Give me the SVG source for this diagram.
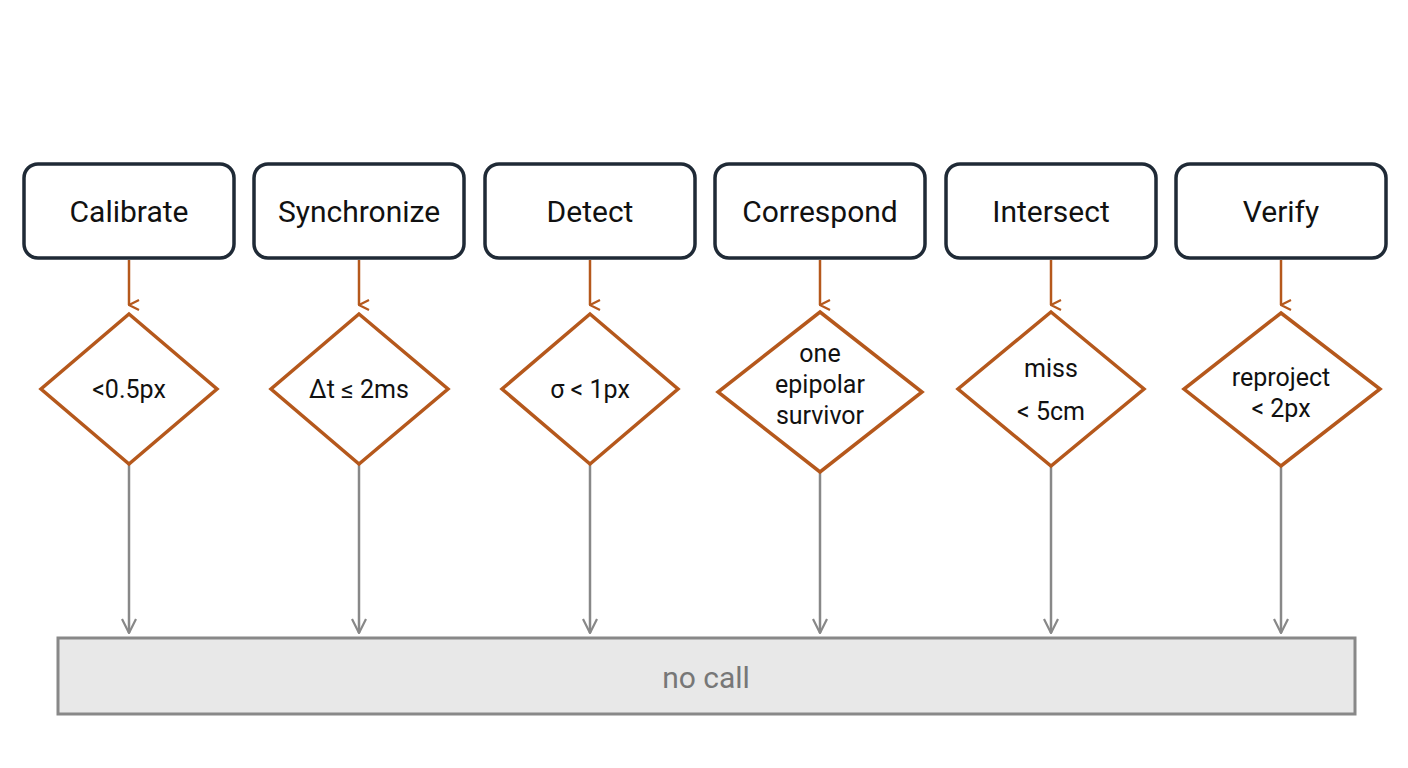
<svg xmlns="http://www.w3.org/2000/svg" width="1408" height="768" viewBox="0 0 1408 768">
<style>
.box{fill:#fff;stroke:#1f2a36;stroke-width:3.5}
.dia{fill:#fff;stroke:#b5581c;stroke-width:3.5}
.t{font-family:Roboto,"Liberation Sans",sans-serif;font-size:30px;fill:#111;text-anchor:middle}
.d{font-family:Roboto,"Liberation Sans",sans-serif;font-size:25px;fill:#111;text-anchor:middle}
.o{stroke:#b5581c;stroke-width:2.5;fill:none;marker-end:url(#ao)}
.g{stroke:#888;stroke-width:2.5;fill:none;marker-end:url(#ag)}
</style>
<defs>
<marker id="ao" markerWidth="12" markerHeight="12" refX="6" refY="11" orient="auto-start-reverse" viewBox="0 0 12 12" markerUnits="userSpaceOnUse"><path d="M1,1 L6,11 L11,1" fill="none" stroke="#b5581c" stroke-width="2.2"/></marker>
<marker id="ag" markerWidth="16" markerHeight="16" refX="8" refY="15" viewBox="0 0 16 16" markerUnits="userSpaceOnUse"><path d="M1,1 L8,15 L15,1" fill="none" stroke="#888" stroke-width="2.2"/></marker>
</defs>
<rect width="1408" height="768" fill="#fff"/>
<g id="connectors">
<path class="o" d="M129,260 V305"/><path class="o" d="M359,260 V305"/><path class="o" d="M590,260 V305"/><path class="o" d="M820,260 V305"/><path class="o" d="M1051,260 V305"/><path class="o" d="M1281,260 V305"/>
<path class="g" d="M129,464 V633"/><path class="g" d="M359,464 V633"/><path class="g" d="M590,464 V633"/><path class="g" d="M820,472 V633"/><path class="g" d="M1051,466 V633"/><path class="g" d="M1281,466 V633"/>
</g>
<g id="calibrate"><rect class="box" x="24" y="164" width="210" height="94" rx="14"/><text class="t" x="129" y="222">Calibrate</text></g>
<g id="synchronize"><rect class="box" x="254" y="164" width="210" height="94" rx="14"/><text class="t" x="359" y="222">Synchronize</text></g>
<g id="detect"><rect class="box" x="485" y="164" width="210" height="94" rx="14"/><text class="t" x="590" y="222">Detect</text></g>
<g id="correspond"><rect class="box" x="715" y="164" width="210" height="94" rx="14"/><text class="t" x="820" y="222">Correspond</text></g>
<g id="intersect"><rect class="box" x="946" y="164" width="210" height="94" rx="14"/><text class="t" x="1051" y="222">Intersect</text></g>
<g id="verify"><rect class="box" x="1176" y="164" width="210" height="94" rx="14"/><text class="t" x="1281" y="222">Verify</text></g>
<g id="d1"><polygon class="dia" points="129,314 217,389 129,464 41,389"/><text class="d" x="129" y="398">&lt;0.5px</text></g>
<g id="d2"><polygon class="dia" points="359,314 448,389 359,464 271,389"/><text class="d" x="359" y="398">Δt ≤ 2ms</text></g>
<g id="d3"><polygon class="dia" points="590,314 678,389 590,464 502,389"/><text class="d" x="590" y="398">σ &lt; 1px</text></g>
<g id="d4"><polygon class="dia" points="820,312 922,392 820,472 718,392"/><text class="d" x="820" y="362">one</text><text class="d" x="820" y="393">epipolar</text><text class="d" x="820" y="424">survivor</text></g>
<g id="d5"><polygon class="dia" points="1051,312 1144,389 1051,466 958,389"/><text class="d" x="1051" y="377">miss</text><text class="d" x="1051" y="420">&lt; 5cm</text></g>
<g id="d6"><polygon class="dia" points="1281,313 1380,389 1281,466 1184,389"/><text class="d" x="1281" y="386">reproject</text><text class="d" x="1281" y="417">&lt; 2px</text></g>
<g id="nocall"><rect x="58" y="638" width="1297" height="76" fill="#e8e8e8" stroke="#888" stroke-width="3"/><text x="706" y="688" font-family="Roboto,'Liberation Sans',sans-serif" font-size="30" fill="#777" text-anchor="middle">no call</text></g>
</svg>
